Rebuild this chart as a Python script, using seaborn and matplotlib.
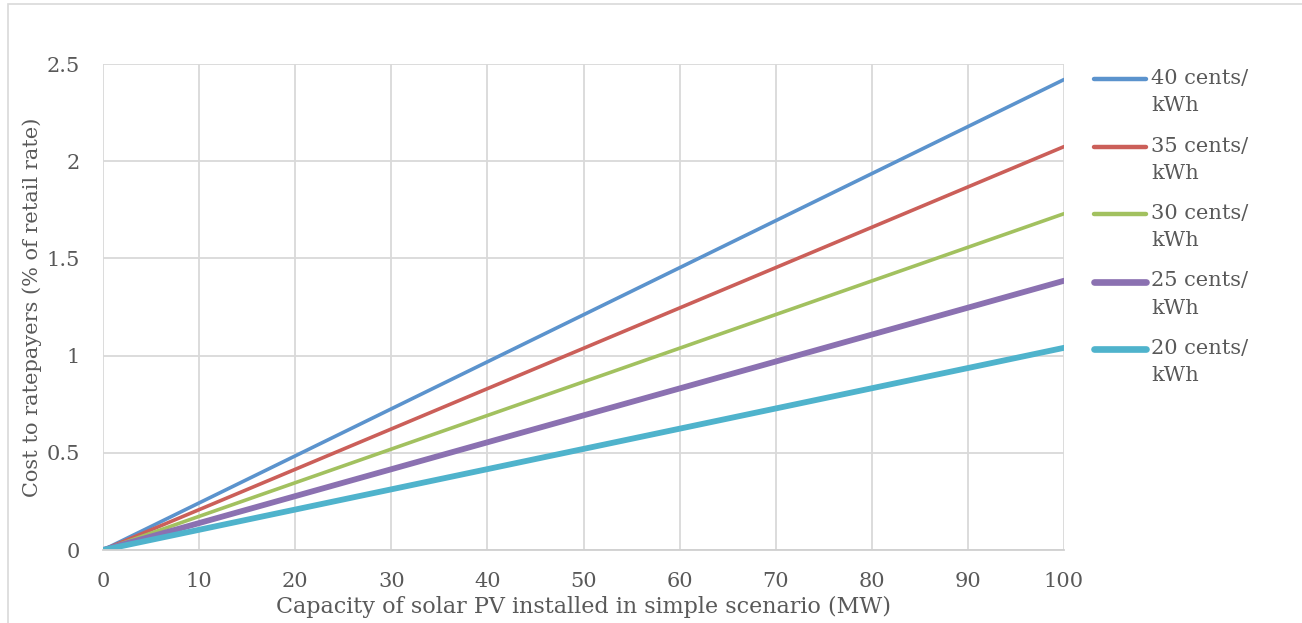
import matplotlib
matplotlib.use("Agg")
import matplotlib.pyplot as plt
from matplotlib.patches import Rectangle
from matplotlib.lines import Line2D
import seaborn as sns
import pandas as pd

# Capacity (MW) at the two ends of each line
capacity_mw = [0, 100]

# Cost to ratepayers (% of retail rate) for each feed-in price
cost_40 = [0, 2.42]
cost_35 = [0, 2.075]
cost_30 = [0, 1.73]
cost_25 = [0, 1.385]
cost_20 = [0, 1.04]

series_labels = ["40 cents/\nkWh", "35 cents/\nkWh", "30 cents/\nkWh",
                 "25 cents/\nkWh", "20 cents/\nkWh"]
series_values = [cost_40, cost_35, cost_30, cost_25, cost_20]
series_colors = ["#5B93CD", "#CB5F59", "#A2C15F", "#8B71B1", "#4FB3CC"]
series_widths = [2.6, 2.6, 2.6, 4.2, 4.2]

x_ticks = [0, 10, 20, 30, 40, 50, 60, 70, 80, 90, 100]
y_ticks = [0, 0.5, 1, 1.5, 2, 2.5]
y_tick_labels = ["0", "0.5", "1", "1.5", "2", "2.5"]

frames = []
for lab, vals in zip(series_labels, series_values):
    frames.append(pd.DataFrame({"capacity": capacity_mw, "cost": vals, "series": lab}))
df = pd.concat(frames, ignore_index=True)

sns.set_theme(style="white")
plt.rcParams["font.family"] = ["DejaVu Serif"]
text_color = "#595959"

W, H = 1302, 623
fig = plt.figure(figsize=(W / 100, H / 100), dpi=100)
# outer chart frame
fig.patches.append(Rectangle((8 / W, -0.05), 1.2, 1.05 - 4 / H,
                             transform=fig.transFigure, fill=False,
                             edgecolor="#D9D9D9", linewidth=1.2))
ax = fig.add_axes([103 / W, 73 / H, 961 / W, 486 / H])

sns.lineplot(data=df, x="capacity", y="cost", hue="series",
             hue_order=series_labels, palette=series_colors,
             size="series", sizes=dict(zip(series_labels, series_widths)),
             size_order=series_labels, ax=ax, legend=False)

ax.set_xlim(0, 100)
ax.set_ylim(0, 2.5)
ax.set_xticks(x_ticks)
ax.set_yticks(y_ticks)
ax.set_yticklabels(y_tick_labels)
ax.grid(True, color="#D9D9D9", linewidth=1.3)
ax.set_axisbelow(True)
for side in ["top", "right", "left"]:
    ax.spines[side].set_visible(False)
ax.spines["bottom"].set_color("#D0D0D0")
ax.spines["bottom"].set_linewidth(1.3)
ax.tick_params(axis="both", length=0, labelsize=15, colors=text_color)
ax.tick_params(axis="x", pad=16)
ax.tick_params(axis="y", pad=16.5)

ax.set_xlabel("Capacity of solar PV installed in simple scenario (MW)",
              fontsize=16, color=text_color)
ax.xaxis.set_label_coords(0.5, -0.094)
ax.set_ylabel("Cost to ratepayers (% of retail rate)",
              fontsize=15, color=text_color)
ax.yaxis.set_label_coords(-0.0635, 0.5)

# Legend to the right of the plot area: handle aligned with first text line
y0, step = 79, 67.5
for i, (lab, col, lw) in enumerate(zip(series_labels, series_colors, series_widths)):
    yy = 1 - (y0 + i * step) / H
    fig.add_artist(Line2D([1094 / W, 1146 / W], [yy, yy], transform=fig.transFigure,
                          color=col, linewidth=lw + 0.6, solid_capstyle="round"))
    fig.text(1151 / W, 1 - (y0 - 10 + i * step) / H, lab, fontsize=15,
             color=text_color, ha="left", va="top", linespacing=1.55)

fig.savefig("out.png", dpi=100)
